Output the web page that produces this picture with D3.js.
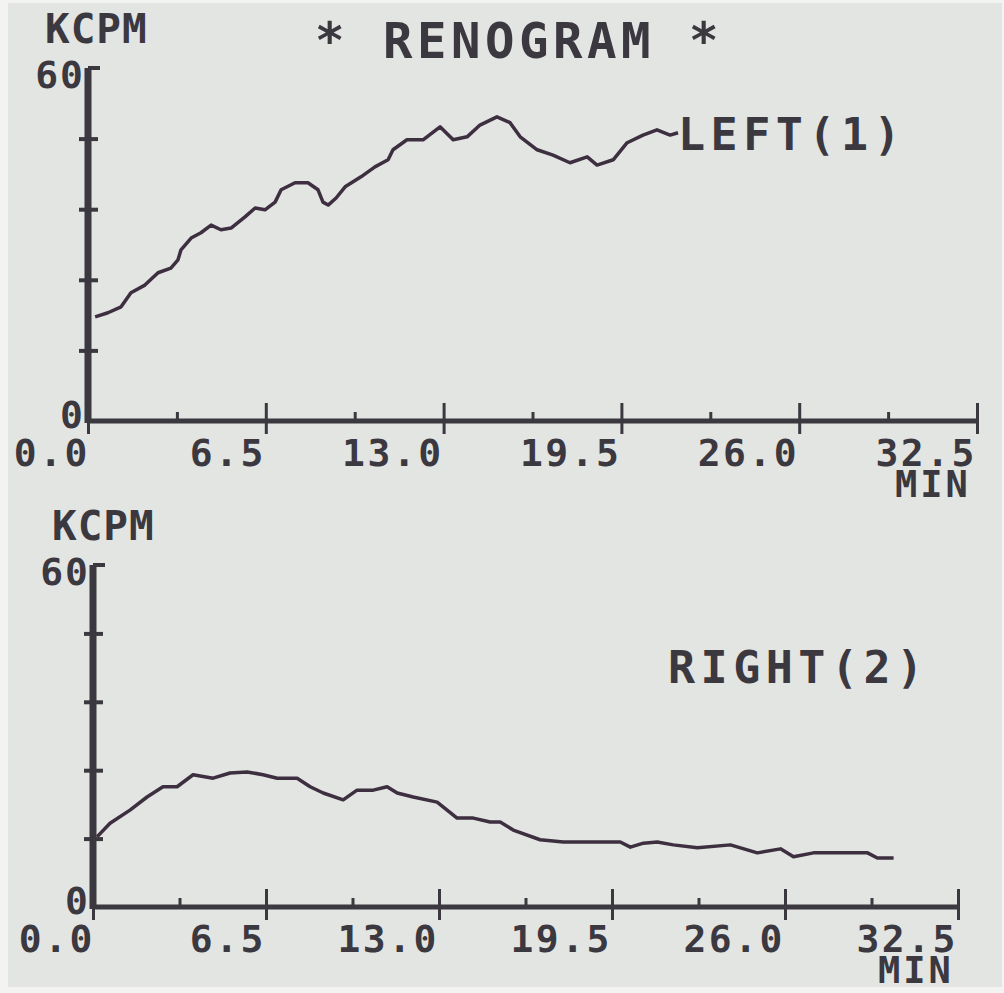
<!DOCTYPE html>
<html>
<head>
<meta charset="utf-8">
<script src="https://cdn.jsdelivr.net/npm/d3@7"></script>
<style>
  html, body { margin: 0; padding: 0; background: #f3f3f2; }
  svg { display: block; }
  text { font-family: "DejaVu Sans Mono", monospace; font-weight: bold; fill: #3b3840; }
</style>
</head>
<body>
<svg id="chart" width="1004" height="993"></svg>
<script>
// renogram curves (minutes, KCPM)
const leftTime = [0.26, 0.73, 1.21, 1.57, 2.08, 2.56, 3.03, 3.29, 3.40, 3.77, 4.13, 4.50, 4.86, 5.23,
  5.74, 6.11, 6.47, 6.84, 7.06, 7.57, 8.04, 8.41, 8.59, 8.78, 9.07, 9.40, 9.98, 10.49, 10.97,
  11.15, 11.66, 12.25, 12.87, 13.35, 13.86, 14.33, 14.95, 15.43, 15.80, 16.42, 17.00, 17.62,
  18.25, 18.61, 19.20, 19.71, 20.29, 20.80, 21.28, 21.57];
const leftCounts = [17.7, 18.4, 19.4, 21.8, 23.1, 25.2, 26.0, 27.4, 29.1, 31.1, 32.0, 33.3, 32.5, 32.8,
  34.7, 36.2, 35.9, 37.2, 39.3, 40.5, 40.5, 39.3, 37.2, 36.7, 37.9, 39.8, 41.5, 43.2, 44.4,
  46.1, 47.8, 47.8, 50.0, 47.8, 48.3, 50.3, 51.7, 50.7, 48.3, 46.1, 45.2, 43.9,
  44.9, 43.5, 44.4, 47.3, 48.6, 49.5, 48.6, 49.0];

const rightTime = [0.15, 0.64, 1.39, 2.03, 2.63, 3.16, 3.76, 4.51, 5.15, 5.79, 6.39, 6.92, 7.67, 8.16,
  8.65, 9.40, 9.92, 10.53, 11.05, 11.43, 12.03, 12.93, 13.68, 14.29, 14.92, 15.30, 15.79, 16.80,
  17.67, 19.81, 20.19, 20.68, 21.20, 21.80, 22.71, 23.95, 24.96, 25.83, 26.32, 27.07, 29.10,
  29.47, 30.08];
const rightCounts = [12.3, 14.7, 17.0, 19.3, 21.1, 21.1, 23.2, 22.6, 23.5, 23.7, 23.2, 22.6, 22.6, 21.1,
  20.0, 18.8, 20.5, 20.5, 21.1, 20.0, 19.3, 18.4, 15.6, 15.6, 14.9, 14.9, 13.5, 11.8,
  11.4, 11.4, 10.5, 11.2, 11.4, 10.9, 10.4, 10.9, 9.5, 10.2, 8.8, 9.5, 9.5,
  8.6, 8.6];

const xMajor = [0, 6.5, 13, 19.5, 26, 32.5];
const xMinor = [3.25, 9.75, 16.25, 22.75, 29.25];
const xLabels = ["0.0", "6.5", "13.0", "19.5", "26.0", "32.5"];
const yTicks = [0, 12, 24, 36, 48, 60];
const yLabels = ["0", "60"];

const ink = "#3b3840";
const lineInk = "#3d2f40";

const svg = d3.select("#chart");

// paper
svg.append("rect")
  .attr("x", 8).attr("y", 3).attr("width", 994).attr("height", 984)
  .attr("fill", "#e3e5e2");

svg.append("text")
  .attr("x", 315).attr("y", 58)
  .style("font-size", "49px").style("letter-spacing", "4.5px")
  .text("* RENOGRAM *");

function drawPanel(p) {
  const x = d3.scaleLinear().domain([0, 32.5]).range([p.left, p.right]);
  const y = d3.scaleLinear().domain([0, 60]).range([p.bottom, p.top]);
  const g = svg.append("g");

  // x axis: major ticks cross the line, minor ticks only above
  const xAxis = g.append("g")
    .attr("transform", `translate(0,${p.bottom})`)
    .call(d3.axisBottom(x).tickValues(xMajor).tickSize(0).tickFormat(""));
  xAxis.select(".domain").attr("stroke", ink).attr("stroke-width", 5).attr("d", `M${p.left},0H${p.right}`);
  xAxis.selectAll(".tick line").attr("stroke", ink).attr("stroke-width", 3)
    .attr("y1", -18).attr("y2", 13);

  const xMin = g.append("g")
    .attr("transform", `translate(0,${p.bottom})`)
    .call(d3.axisBottom(x).tickValues(xMinor).tickSize(0).tickFormat(""));
  xMin.select(".domain").remove();
  xMin.selectAll(".tick line").attr("stroke", ink).attr("stroke-width", 3)
    .attr("y1", -9).attr("y2", 2);

  xMajor.forEach((t, i) => {
    g.append("text")
      .attr("x", x(t) + (i === 0 ? 2 : 0)).attr("y", p.bottom + 45)
      .attr("text-anchor", "end")
      .style("font-size", "38px").style("letter-spacing", "2.5px")
      .text(xLabels[i]);
  });

  // y axis
  const yAxis = g.append("g")
    .attr("transform", `translate(${p.left},0)`)
    .call(d3.axisLeft(y).tickValues(yTicks.slice(1, -1)).tickSize(0).tickFormat(""));
  yAxis.select(".domain").attr("stroke", ink).attr("stroke-width", 7)
    .attr("d", `M0,${p.bottom + 2}V${p.top}`);
  yAxis.selectAll(".tick line").attr("stroke", ink).attr("stroke-width", 4)
    .attr("x1", -9).attr("x2", 10);
  g.append("line")
    .attr("x1", p.left).attr("x2", p.left + 12)
    .attr("y1", y(60)).attr("y2", y(60))
    .attr("stroke", ink).attr("stroke-width", 4);

  yLabels.forEach(l => {
    const v = +l;
    g.append("text")
      .attr("x", p.left - 3).attr("y", y(v) + (v === 60 ? 20 : 7))
      .attr("text-anchor", "end")
      .style("font-size", "38px").style("letter-spacing", "2px")
      .text(l);
  });

  g.append("text")
    .attr("x", p.kcpmX).attr("y", p.top - 25)
    .style("font-size", "41px").style("letter-spacing", "1px")
    .text("KCPM");
  g.append("text")
    .attr("x", p.minX).attr("y", p.bottom + 76)
    .style("font-size", "37px").style("letter-spacing", "3px")
    .text("MIN");

  const pts = d3.zip(p.time, p.counts);
  g.append("path")
    .datum(pts)
    .attr("fill", "none")
    .attr("stroke", lineInk)
    .attr("stroke-width", 3.5)
    .attr("stroke-linejoin", "round")
    .attr("d", d3.line().x(d => x(d[0])).y(d => y(d[1])));

  g.append("text")
    .attr("x", p.nameX).attr("y", p.nameY)
    .style("font-size", "45px").style("letter-spacing", "5.5px")
    .text(p.name);
}

drawPanel({
  left: 88, right: 977, top: 68, bottom: 421,
  time: leftTime, counts: leftCounts,
  name: "LEFT(1)", nameX: 678, nameY: 150,
  kcpmX: 45, minX: 895
});

drawPanel({
  left: 93, right: 958, top: 565, bottom: 907,
  time: rightTime, counts: rightCounts,
  name: "RIGHT(2)", nameX: 668, nameY: 683,
  kcpmX: 52, minX: 878
});
</script>
</body>
</html>
